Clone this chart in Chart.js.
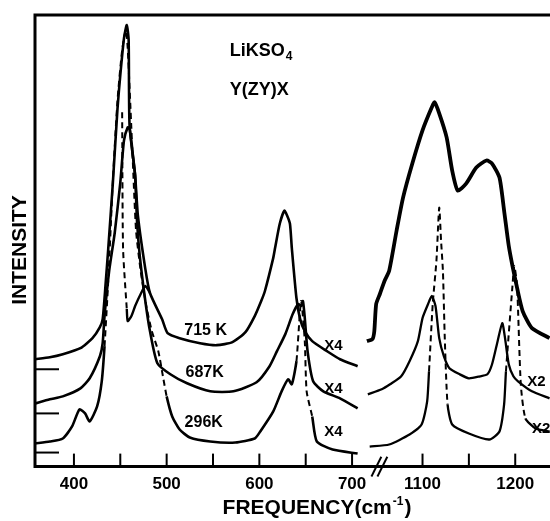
<!DOCTYPE html>
<html>
<head>
<meta charset="utf-8">
<title>LiKSO4 Raman spectra</title>
<script src="https://cdn.jsdelivr.net/npm/chart.js@4"></script>
<style>
  body { margin: 0; background: #fff; }
  #wrap { width: 550px; height: 521px; }
</style>
</head>
<body>
<div id="wrap"><canvas id="spectra" width="550" height="521"></canvas></div>
<script>
// traces: [frequency cm-1, intensity (arb.)]
const k715Low = [[358,107],[374,109],[388,112],[407,118],[420,128],[428,139],[431,147],[434,180],[437,217],[442,283],[447,357],[450,390],[454,427],[457,440],[459,425],[460,340],[466,290],[469,250],[477,197],[482,173],[495,147],[501,133],[514,128],[536,123],[554,121],[571,124],[585,134],[595,150],[602,165],[606,175],[615,208],[617,218],[622,242],[627,255],[630,250],[633,242],[635,218],[640,168],[644,147],[649,135],[657,125],[673,115],[687,107],[706,100]];
const k715Dip = [[452,353],[453,217],[457,157],[458,145],[462,150],[466,160],[472,172],[477,180],[482,173]];
const k715High = [[1040,125],[1046,127],[1048,135],[1050,162],[1054,172],[1059,185],[1064,195],[1072,235],[1079,268],[1089,302],[1100,335],[1110,358],[1113,363],[1118,352],[1126,328],[1132,295],[1138,275],[1147,282],[1158,298],[1169,305],[1175,302],[1183,288],[1188,255],[1193,220],[1197,200],[1202,178],[1208,155],[1218,138],[1237,128]];

const k687Low = [[358,63],[374,67],[388,70],[407,78],[417,88],[428,110],[431,123],[433,150],[438,195],[444,233],[450,283],[454,325],[458,338],[460,337],[463,315],[466,290],[468,245],[471,210],[477,165],[482,135],[490,103],[504,92],[522,83],[547,75],[572,75],[597,84],[611,100],[619,115],[628,132],[636,152],[642,162],[645,160],[647,165],[649,148],[652,115],[658,85],[669,75],[687,68],[706,58]];
const k687High = [[1041,72],[1056,77],[1065,82],[1077,90],[1086,105],[1095,125],[1100,148],[1106,162],[1110,170],[1114,160],[1118,128],[1123,110],[1129,98],[1140,92],[1150,88],[1162,90],[1170,92],[1175,102],[1181,125],[1186,143],[1189,128],[1193,102],[1198,90],[1203,85],[1218,75],[1237,68]];

const k296Low = [[358,23],[374,25],[388,28],[398,40],[406,57],[412,53],[417,45],[425,60],[430,85],[433,120],[437,185],[442,285],[447,365],[452,415],[456,435],[458,417],[463,315],[467,235],[472,195],[478,160],[484,135],[491,115],[496,90],[500,70],[506,50],[514,37],[525,29],[547,25],[574,24],[595,28],[601,35],[615,55],[624,75],[631,87],[635,82],[640,105],[645,165],[649,125],[651,75],[657,50],[662,25],[679,17],[706,13]];
const k296High = [[1043,20],[1064,22],[1086,32],[1099,42],[1105,65],[1107,95],[1111,162],[1115,205],[1118,258],[1120,225],[1122,195],[1124,128],[1127,62],[1132,42],[1150,33],[1172,27],[1183,35],[1188,62],[1190,95],[1197,180],[1199,200],[1202,180],[1206,82],[1211,48],[1222,38],[1237,35]];

// parts of the traces drawn dashed in the original (cm-1 ranges)
const dash296 = [[433,500],[640,657],[1107,1127],[1190,1211]];
const dash715Dip = [[452,457.5]];

const tickFreqs  = [400, 450, 500, 550, 600, 650, 700, 1100, 1150, 1200];
const tickLabels = ['400', '', '500', '', '600', '', '700', '1100', '', '1200'];
const baselineMarks = [14, 53, 97];

const BREAK_SHIFT = 324;   // axis is cut after ~730, 1100 sits 76 units past 700
const FONT = '"Liberation Sans", Arial, sans-serif';

function disp(f) { return f >= 1000 ? f - BREAK_SHIFT : f; }

function inBand(bands, a, b) {
  return bands.some(r => a >= r[0] && b <= r[1]);
}

function makeSet(pairs, width, bands) {
  const pts = pairs.map(p => ({ x: disp(p[0]), y: p[1] }));
  const shift = pairs[0][0] >= 1000 ? BREAK_SHIFT : 0;
  return {
    data: pts,
    borderColor: '#000',
    borderWidth: width,
    pointRadius: 0,
    tension: 0.2,
    fill: false,
    segment: {
      borderDash: c => inBand(bands, c.p0.parsed.x + shift, c.p1.parsed.x + shift) ? [6, 4] : undefined,
      borderWidth: c => inBand(bands, c.p0.parsed.x + shift, c.p1.parsed.x + shift) ? 2 : undefined
    }
  };
}

const decor = {
  id: 'decor',
  afterDraw(chart) {
    const ctx = chart.ctx, a = chart.chartArea;
    const xs = chart.scales.x, ys = chart.scales.y;
    ctx.save();
    ctx.strokeStyle = '#000';
    ctx.lineCap = 'square';

    // frame (no right edge, it runs off the page)
    ctx.lineWidth = 3;
    ctx.beginPath();
    ctx.moveTo(a.right, a.top); ctx.lineTo(a.left, a.top);
    ctx.lineTo(a.left, a.bottom); ctx.lineTo(a.right, a.bottom);
    ctx.stroke();

    // inward ticks
    ctx.lineWidth = 2;
    tickFreqs.forEach(f => {
      const x = xs.getPixelForValue(disp(f));
      ctx.beginPath(); ctx.moveTo(x, a.bottom); ctx.lineTo(x, a.bottom - 12); ctx.stroke();
    });
    // baseline markers on the left
    baselineMarks.forEach(v => {
      const y = ys.getPixelForValue(v);
      ctx.beginPath(); ctx.moveTo(a.left, y); ctx.lineTo(a.left + 23, y); ctx.stroke();
    });
    // axis break //
    const bx = xs.getPixelForValue(730);
    ctx.lineWidth = 2;
    [-3, 3].forEach(d => {
      ctx.beginPath(); ctx.moveTo(bx + d - 5, a.bottom + 9); ctx.lineTo(bx + d + 4, a.bottom - 9); ctx.stroke();
    });

    ctx.fillStyle = '#000';
    ctx.textBaseline = 'middle';
    const px = f => xs.getPixelForValue(disp(f));
    const py = v => ys.getPixelForValue(v);

    // sample / geometry
    ctx.textAlign = 'left';
    ctx.font = 'bold 18px ' + FONT;
    ctx.fillText('LiKSO', px(568), py(414));
    const w = ctx.measureText('LiKSO').width;
    ctx.font = 'bold 12px ' + FONT;
    ctx.fillText('4', px(568) + w + 1, py(414) + 6);
    ctx.font = 'bold 18px ' + FONT;
    ctx.fillText('Y(ZY)X', px(568), py(375));

    // temperatures
    ctx.textAlign = 'center';
    ctx.font = 'bold 16px ' + FONT;
    ctx.fillText('715 K', px(542), py(136));
    ctx.fillText('687K', px(541), py(94));
    ctx.fillText('296K', px(540), py(44));
    ctx.font = 'bold 15px ' + FONT;
    ctx.fillText('X4', px(680), py(120));
    ctx.fillText('X4', px(680), py(77));
    ctx.fillText('X4', px(680), py(35));
    ctx.textAlign = 'left';
    ctx.fillText('X2', px(1213), py(84));
    ctx.fillText('X2', px(1218), py(38));

    // axis titles
    const t1 = 'FREQUENCY(cm', t2 = ')';
    ctx.font = 'bold 21px ' + FONT;
    const w1 = ctx.measureText(t1).width;
    const w2 = ctx.measureText(t2).width;
    ctx.font = 'bold 12px ' + FONT;
    const ws = ctx.measureText('-1').width;
    let tx = 316 - (w1 + ws + w2) / 2;
    ctx.font = 'bold 21px ' + FONT;
    ctx.fillText(t1, tx, 508);
    ctx.font = 'bold 12px ' + FONT;
    ctx.fillText('-1', tx + w1 + 1, 502);
    ctx.font = 'bold 21px ' + FONT;
    ctx.fillText(t2, tx + w1 + ws + 2, 508);

    ctx.save();
    ctx.translate(20, 250);
    ctx.rotate(-Math.PI / 2);
    ctx.textAlign = 'center';
    ctx.font = 'bold 21px ' + FONT;
    ctx.fillText('INTENSITY', 0, 0);
    ctx.restore();

    ctx.restore();
  }
};

new Chart(document.getElementById('spectra'), {
  type: 'line',
  data: {
    datasets: [
      makeSet(k715Low, 2.6, []),
      makeSet(k715Dip, 2.4, dash715Dip),
      makeSet(k715High, 3.8, []),
      makeSet(k687Low, 2.6, []),
      makeSet(k687High, 2.3, []),
      makeSet(k296Low, 2.6, dash296),
      makeSet(k296High, 2.3, dash296)
    ]
  },
  options: {
    responsive: false,
    animation: false,
    layout: { padding: { left: 35, top: 15, right: 0, bottom: 18 } },
    plugins: { legend: { display: false }, tooltip: { enabled: false } },
    scales: {
      x: {
        type: 'linear',
        min: 358,
        max: 913.5,
        grid: { display: false, drawTicks: false },
        border: { display: false },
        afterBuildTicks: s => { s.ticks = tickFreqs.map(f => ({ value: disp(f) })); },
        ticks: {
          padding: 8,
          autoSkip: false,
          maxRotation: 0,
          color: '#000',
          font: { family: FONT, size: 17, weight: 'bold' },
          callback: (v, i) => tickLabels[i]
        }
      },
      y: { display: false, min: 0, max: 450 }
    }
  },
  plugins: [decor]
});
</script>
</body>
</html>
